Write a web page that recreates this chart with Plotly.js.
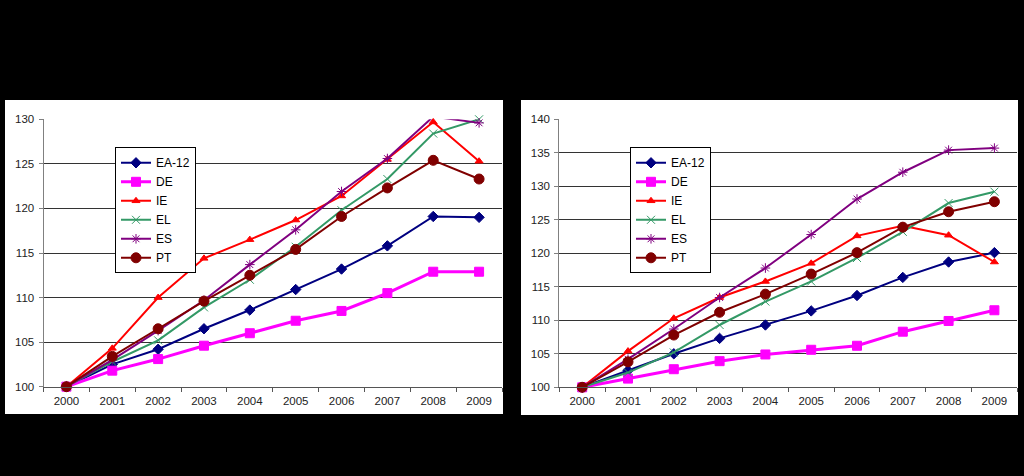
<!DOCTYPE html>
<html>
<head>
<meta charset="utf-8">
<script src="https://cdn.plot.ly/plotly-3.0.1.min.js"></script>
<style>
html,body{margin:0;padding:0;background:#000;}
#chart{width:1024px;height:476px;}
</style>
</head>
<body>
<div id="chart"></div>
<script>
// ---- data ----
var years = ['2000','2001','2002','2003','2004','2005','2006','2007','2008','2009'];
var seriesNames = ['EA-12','DE','IE','EL','ES','PT'];

var L_EA = [100, 102.5, 104.2, 106.5, 108.6, 110.9, 113.2, 115.8, 119.1, 119.0];
var L_DE = [100, 101.8, 103.1, 104.6, 106.0, 107.4, 108.5, 110.5, 112.9, 112.9];
var L_IE = [100, 104.3, 110.0, 114.4, 116.5, 118.7, 121.4, 125.5, 129.7, 125.3];
var L_EL = [100, 102.8, 105.2, 108.9, 112.0, 115.7, 119.8, 123.3, 128.4, 130.0];
var L_ES = [100, 103.0, 106.3, 109.7, 113.7, 117.6, 121.9, 125.6, 130.3, 129.6];
var L_PT = [100, 103.4, 106.5, 109.6, 112.5, 115.4, 119.1, 122.3, 125.4, 123.3];

var R_EA = [100, 102.5, 105.0, 107.3, 109.3, 111.4, 113.7, 116.4, 118.7, 120.1];
var R_DE = [100, 101.3, 102.7, 103.9, 104.9, 105.6, 106.2, 108.3, 109.9, 111.5];
var R_IE = [100, 105.4, 110.3, 113.4, 115.8, 118.5, 122.6, 124.1, 122.7, 118.7];
var R_EL = [100, 102.2, 105.2, 109.3, 112.8, 115.8, 119.3, 123.2, 127.5, 129.2];
var R_ES = [100, 104.2, 108.7, 113.4, 117.8, 122.8, 128.1, 132.1, 135.4, 135.7];
var R_PT = [100, 103.8, 107.8, 111.2, 113.9, 116.9, 120.1, 123.9, 126.2, 127.7];

var leftTicks = [100, 105, 110, 115, 120, 125, 130];
var rightTicks = [100, 105, 110, 115, 120, 125, 130, 135, 140];

// ---- styles ----
var styles = [
  {color:'#000080', symbol:'diamond', size:8, width:2},
  {color:'#FF00FF', symbol:'square', size:9, width:3},
  {color:'#FF0000', symbol:'triangle-up', size:7, width:2},
  {color:'#339966', symbol:'x-thin-open', size:8, width:2},
  {color:'#800080', symbol:'asterisk-open', size:8, width:2},
  {color:'#800000', symbol:'circle', size:10, width:2}
];

var W = 1024, H = 476;
function px(x){ return x / W; }
function py(y){ return 1 - y / H; }

var leftData = [L_EA, L_DE, L_IE, L_EL, L_ES, L_PT];
var rightData = [R_EA, R_DE, R_IE, R_EL, R_ES, R_PT];

var traces = [];
function addTraces(dataSets, xa, ya, leg){
  dataSets.forEach(function(vals, i){
    var s = styles[i];
    traces.push({
      type:'scatter', mode:'lines+markers',
      x: years, y: vals, name: seriesNames[i],
      xaxis: xa, yaxis: ya, legend: leg, cliponaxis:false,
      line:{color:s.color, width:s.width},
      marker:{symbol:s.symbol, size:s.size, color:s.color, line:{color:s.color, width:1}},
      hoverinfo:'skip'
    });
  });
}
addTraces(leftData, 'x', 'y', 'legend');
addTraces(rightData, 'x2', 'y2', 'legend2');

var tickFont = {family:'Liberation Sans, Arial, sans-serif', size:11.5, color:'#222'};

function xAxis(d0, d1, anchor){
  return {
    domain:[px(d0), px(d1)], anchor: anchor, type:'category',
    range:[-0.5, 9.5], tickson:'boundaries', ticks:'outside', ticklen:4,
    tickcolor:'#555', showline:true, linecolor:'#555', linewidth:1,
    showgrid:false, zeroline:false, tickfont: tickFont, ticklabelstandoff:3,
    fixedrange:true
  };
}
function yAxis(top, bottom, anchor, rng, tv){
  return {
    domain:[py(bottom), py(top)], anchor: anchor, range: rng,
    tickvals: tv, ticks:'outside', ticklen:4, tickcolor:'#808080',
    showline:true, linecolor:'#808080', linewidth:1,
    showgrid:true, gridcolor:'#333', gridwidth:1, zeroline:false,
    tickfont: tickFont, ticklabelstandoff:2, fixedrange:true
  };
}

var legendCommon = {
  bgcolor:'#FFFFFF', bordercolor:'#000', borderwidth:1,
  font:{family:'Liberation Sans, Arial, sans-serif', size:12, color:'#000'},
  xanchor:'left', yanchor:'top', itemwidth:30, tracegroupgap:0,
  itemclick:false, itemdoubleclick:false
};

var layout = {
  width: W, height: H,
  margin:{l:0, r:0, t:0, b:0},
  paper_bgcolor:'#000000', plot_bgcolor:'#FFFFFF',
  showlegend:true,
  xaxis: xAxis(43.5, 502, 'y'),
  yaxis: yAxis(119.3, 386.7, 'x', [100,130], leftTicks),
  xaxis2: xAxis(559.3, 1017.3, 'y2'),
  yaxis2: yAxis(119.3, 387.3, 'x2', [100,140], rightTicks),
  legend: Object.assign({x:px(115), y:py(147.3)}, legendCommon),
  legend2: Object.assign({x:px(630), y:py(147.3)}, legendCommon),
  shapes:[
    {type:'rect', xref:'paper', yref:'paper', x0:px(5), x1:px(503), y0:py(414), y1:py(100),
     fillcolor:'#FFFFFF', line:{width:0}, layer:'below'},
    {type:'rect', xref:'paper', yref:'paper', x0:px(521), x1:px(1018), y0:py(415), y1:py(100),
     fillcolor:'#FFFFFF', line:{width:0}, layer:'below'}
  ]
};

Plotly.newPlot('chart', traces, layout, {displayModeBar:false, staticPlot:true});
</script>
</body>
</html>
